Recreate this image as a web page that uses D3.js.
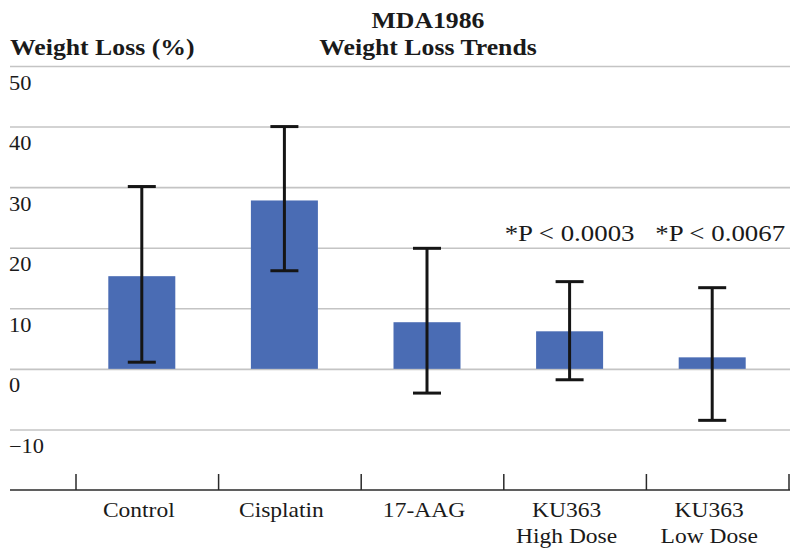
<!DOCTYPE html>
<html>
<head>
<meta charset="utf-8">
<script src="https://cdn.jsdelivr.net/npm/d3@7"></script>
<style>
  html, body { margin: 0; padding: 0; background: #fff; }
  svg { display: block; font-family: "Liberation Serif", "Times New Roman", serif; }
  svg text { font-family: "Liberation Serif", "Times New Roman", serif; }
</style>
</head>
<body>
<svg id="chart" width="800" height="559"></svg>
<script>
// ---- data ----
const categories = ["Control", "Cisplatin", "17-AAG", "KU363 High Dose", "KU363 Low Dose"];
const categoryLabelLines = [["Control"], ["Cisplatin"], ["17-AAG"], ["KU363", "High Dose"], ["KU363", "Low Dose"]];
const meanLoss = [15.3, 27.8, 7.7, 6.2, 1.9];
const errorUpper = [30.1, 40.0, 19.9, 14.4, 13.4];
const errorLower = [1.1, 16.2, -4.0, -1.8, -8.5];
const yTickValues = [50, 40, 30, 20, 10, 0, -10];
const annotationCategories = ["KU363 High Dose", "KU363 Low Dose"];
const annotationTexts = ["*P < 0.0003", "*P < 0.0067"];
const titleLines = ["MDA1986", "Weight Loss Trends"];
const yAxisTitle = "Weight Loss (%)";

// ---- layout ----
const svg = d3.select("#chart");
const SX = 1.12; // horizontal stretch of the glyphs in the reference
const textColor = "#1a1a1a";
const serif = "'Liberation Serif', 'Times New Roman', serif";

const y = d3.scaleLinear().domain([-20, 50]).range([490, 66]);
const x = d3.scaleBand().domain(categories).range([76, 789]);
const barOffset = -5.5;
const barWidth = 67;
const cx = c => x(c) + x.bandwidth() / 2 + barOffset;

function stretchedText(g, tx, ty, str, size, anchor, weight) {
  return g.append("text")
    .attr("transform", `translate(${tx},${ty}) scale(${SX},1)`)
    .attr("text-anchor", anchor)
    .attr("font-family", serif)
    .attr("font-size", size)
    .attr("font-weight", weight || "normal")
    .attr("fill", textColor)
    .text(str);
}

// gridlines + y tick labels via axis
const yAxis = d3.axisRight(y).tickValues(yTickValues).tickSize(780).tickFormat(d3.format("d"));
const gy = svg.append("g").attr("transform", "translate(10,0)").call(yAxis)
  .attr("font-family", serif).attr("font-size", null);
gy.select(".domain").remove();
gy.selectAll(".tick line").attr("stroke", "#c4c4c4").attr("stroke-width", 1.6);
gy.selectAll(".tick text").remove();
gy.selectAll(".tick").each(function(d) {
  stretchedText(d3.select(this), -1, 23, d3.format("d")(d), 20, "start");
});

// bottom axis line and tick marks at category boundaries
const boundaries = categories.map(c => x(c)).concat([x(categories[categories.length - 1]) + x.bandwidth()]);
svg.append("line")
  .attr("x1", 10).attr("x2", 790)
  .attr("y1", y(-20)).attr("y2", y(-20))
  .attr("stroke", "#2a2a2a").attr("stroke-width", 1.5);
svg.selectAll("line.xtick").data(boundaries).enter().append("line")
  .attr("class", "xtick")
  .attr("x1", d => d).attr("x2", d => d)
  .attr("y1", y(-20)).attr("y2", y(-20) - 16)
  .attr("stroke", "#2a2a2a").attr("stroke-width", 1.5);

// bars
svg.selectAll("rect.bar").data(categories).enter().append("rect")
  .attr("class", "bar")
  .attr("x", c => cx(c) - barWidth / 2)
  .attr("width", barWidth)
  .attr("y", (c, i) => y(Math.max(0, meanLoss[i])))
  .attr("height", (c, i) => Math.abs(y(meanLoss[i]) - y(0)))
  .attr("fill", "#4a6cb4");

// error bars
const capW = 28;
const eb = svg.selectAll("g.err").data(categories).enter().append("g").attr("class", "err")
  .attr("stroke", "#151515").attr("stroke-width", 3);
eb.append("line")
  .attr("x1", c => cx(c)).attr("x2", c => cx(c))
  .attr("y1", (c, i) => y(errorUpper[i])).attr("y2", (c, i) => y(errorLower[i]));
eb.append("line")
  .attr("x1", c => cx(c) - capW / 2).attr("x2", c => cx(c) + capW / 2)
  .attr("y1", (c, i) => y(errorUpper[i])).attr("y2", (c, i) => y(errorUpper[i]));
eb.append("line")
  .attr("x1", c => cx(c) - capW / 2).attr("x2", c => cx(c) + capW / 2)
  .attr("y1", (c, i) => y(errorLower[i])).attr("y2", (c, i) => y(errorLower[i]));

// category labels
categories.forEach((c, i) => {
  categoryLabelLines[i].forEach((line, j) => {
    stretchedText(svg, cx(c) - 3, 517 + j * 26, line, 21, "middle");
  });
});

// significance annotations
const annotDx = [0, 8];
annotationCategories.forEach((c, i) => {
  stretchedText(svg, cx(c) + annotDx[i], 241, annotationTexts[i], 24, "middle");
});

// titles
stretchedText(svg, 428, 28, titleLines[0], 23, "middle", "bold");
stretchedText(svg, 428, 55, titleLines[1], 23, "middle", "bold");
stretchedText(svg, 10, 55, yAxisTitle, 23, "start", "bold");
</script>
</body>
</html>
